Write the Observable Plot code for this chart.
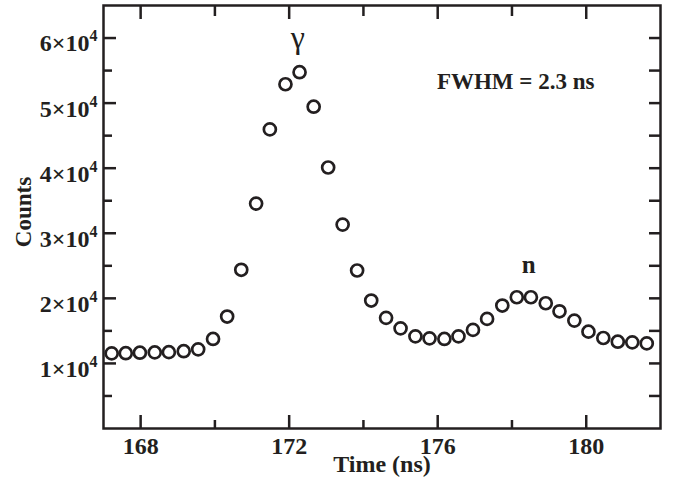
<!DOCTYPE html>
<html><head><meta charset="utf-8">
<script src="https://cdn.jsdelivr.net/npm/d3@7"></script>
<script src="https://cdn.jsdelivr.net/npm/@observablehq/plot@0.6"></script>
<style>html,body{margin:0;padding:0;background:#fff}</style>
</head><body><div id="chart"></div>
<script>
// Time-of-flight spectrum: time (ns) and counts
const time = [167.22, 167.60, 167.98, 168.38, 168.76, 169.16, 169.55, 169.95, 170.33, 170.71,
  171.11, 171.48, 171.90, 172.28, 172.66, 173.05, 173.44, 173.83, 174.21, 174.61,
  175.00, 175.40, 175.78, 176.18, 176.56, 176.95, 177.33, 177.74, 178.13, 178.51,
  178.91, 179.28, 179.68, 180.06, 180.46, 180.85, 181.24, 181.63];
const counts = [11540, 11570, 11650, 11690, 11730, 11880, 12160, 13760, 17200, 24390,
  34560, 45960, 52900, 54750, 49450, 40110, 31330, 24280, 19660, 17000,
  15390, 14160, 13850, 13760, 14160, 15150, 16840, 18890, 20170, 20170,
  19250, 18010, 16580, 14880, 13910, 13340, 13240, 13080];

const xMajor = [168, 172, 176, 180];
const xMinor = [170, 174, 178];
const yMajor = [10000, 20000, 30000, 40000, 50000, 60000];
const yMinor = [5000, 15000, 25000, 35000, 45000, 55000];

const annoText = ["γ", "n", "FWHM = 2.3 ns"];
const annoX = [172.23, 178.45, 178.1];
const annoY = [60000, 25200, 53320];

const points = time.map((t, i) => ({t, c: counts[i]}));
const annos = annoText.map((s, i) => ({s, x: annoX[i], y: annoY[i]}));

const ink = "#231f20";
const font = "'Liberation Serif', 'Times New Roman', serif";

const chart = Plot.plot({
  width: 676,
  height: 482,
  marginLeft: 103,
  marginRight: 16,
  marginTop: 5,
  marginBottom: 54,
  x: {domain: [167, 182], label: null},
  y: {domain: [0, 65000], label: null},
  style: {fontFamily: font, fontWeight: "bold", fontSize: "24px", background: "white", color: ink},
  marks: [
    // inward ticks
    Plot.axisX({anchor: "bottom", ticks: xMajor, tickSize: -13, fill: "none", label: null, stroke: ink, strokeWidth: 2.5}),
    Plot.axisX({anchor: "bottom", ticks: xMinor, tickSize: -8, fill: "none", label: null, stroke: ink, strokeWidth: 2.5}),
    Plot.axisX({anchor: "top", ticks: xMajor, tickSize: -13, fill: "none", label: null, stroke: ink, strokeWidth: 2.5}),
    Plot.axisX({anchor: "top", ticks: xMinor, tickSize: -10, fill: "none", label: null, stroke: ink, strokeWidth: 2.5}),
    Plot.axisY({anchor: "left", ticks: yMajor, tickSize: -13, fill: "none", label: null, stroke: ink, strokeWidth: 2.5}),
    Plot.axisY({anchor: "left", ticks: yMinor, tickSize: -9, fill: "none", label: null, stroke: ink, strokeWidth: 2.5}),
    Plot.axisY({anchor: "right", ticks: yMajor.concat(yMinor), tickSize: -12, fill: "none", label: null, stroke: ink, strokeWidth: 2.5}),
    // tick labels
    Plot.axisX({anchor: "bottom", ticks: xMajor, tickSize: 0, tickPadding: 8, label: null, fontSize: 24, fill: ink, tickFormat: d => String(d)}),
    Plot.axisY({anchor: "left", ticks: yMajor, tickSize: 0, tickPadding: 6, dy: 5.7, label: null, fontSize: 24, fill: ink, tickFormat: d => `${d / 10000}×10`}),
    // axis titles
    Plot.text(["Time (ns)"], {frameAnchor: "bottom", dy: 36.3, text: d => d, fontSize: 24, fill: ink, textAnchor: "middle", lineAnchor: "middle"}),
    Plot.text(["Counts"], {frameAnchor: "left", dx: -79.7, dy: -5, rotate: -90, text: d => d, fontSize: 23, fill: ink, textAnchor: "middle", lineAnchor: "middle"}),
    // data
    Plot.dot(points, {x: "t", y: "c", r: 6, stroke: ink, strokeWidth: 2.7, fill: "none"}),
    // annotations
    Plot.text(annos.slice(0, 1), {x: "x", y: "y", text: "s", fontSize: 32, fontWeight: "normal", fill: ink, lineAnchor: "middle"}),
    Plot.text(annos.slice(1, 2), {x: "x", y: "y", text: "s", fontSize: 25, fill: ink, lineAnchor: "middle"}),
    Plot.text(annos.slice(2), {x: "x", y: "y", text: "s", fontSize: 23, fill: ink, lineAnchor: "middle"}),
    Plot.frame({stroke: ink, strokeWidth: 2.5})
  ]
});

// superscript exponent on y tick labels
chart.querySelectorAll('[aria-label="y-axis tick label"] text').forEach(t => {
  const sup = document.createElementNS("http://www.w3.org/2000/svg", "tspan");
  sup.setAttribute("dy", "-10");
  sup.setAttribute("font-size", "16");
  sup.textContent = "4";
  t.appendChild(sup);
});

document.getElementById("chart").appendChild(chart);
</script>
</body></html>
